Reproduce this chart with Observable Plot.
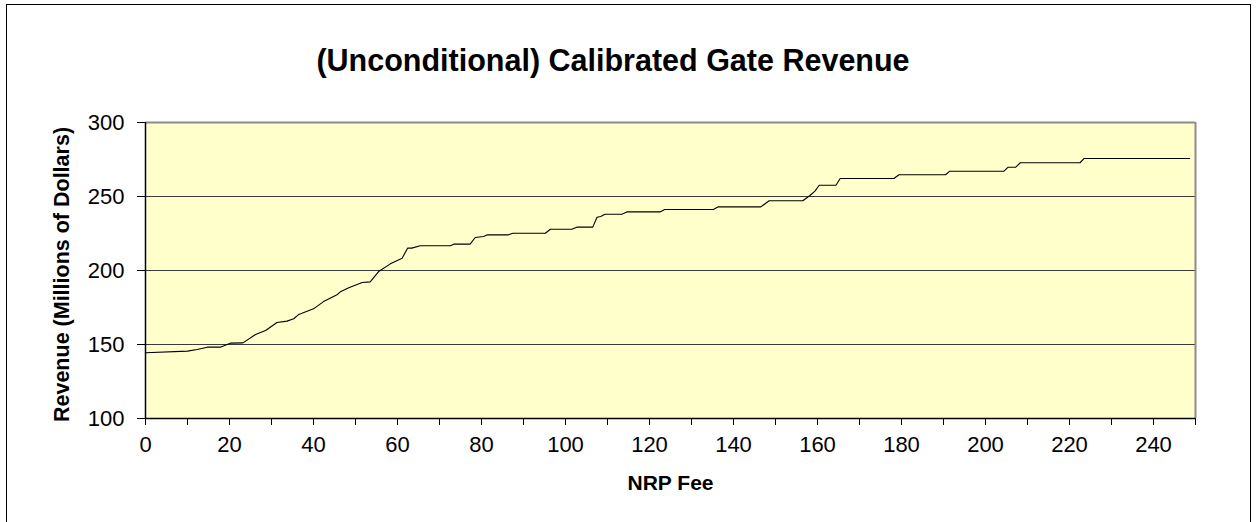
<!DOCTYPE html>
<html>
<head>
<meta charset="utf-8">
<script src="https://cdn.jsdelivr.net/npm/d3@7"></script>
<script src="https://cdn.jsdelivr.net/npm/@observablehq/plot@0.6"></script>
<style>
  html, body { margin: 0; padding: 0; background: #fff; overflow: hidden; width: 1257px; height: 522px; }
  #frame { position: absolute; left: 6px; top: 4px; width: 1245px; height: 600px; border: 1px solid #000; box-sizing: border-box; }
  #title { position: absolute; left: 0; top: 45px; width: 1226px; text-align: center; font: bold 30.5px "Liberation Sans", Arial, sans-serif; line-height: 30px; color: #000; }
  #chart { position: absolute; left: 0; top: 90px; }
</style>
</head>
<body>
<div id="frame"></div>
<div id="title">(Unconditional) Calibrated Gate Revenue</div>
<div id="chart"></div>
<script>
// Data (NRP fee vs. revenue, millions of dollars)
const fee = [0, 10, 12.3, 14.7, 17.8, 20.2, 23.2, 26.2, 28.6, 31.3, 33.7, 35.3, 36.5, 40, 42.4, 45.6, 46.4, 48.4, 51.6, 53.5, 55.5, 58.3, 61.1, 62.4, 63.4, 65.4, 72.6, 73.4, 77.3, 78.5, 80.5, 81.4, 86.4, 87.5, 95.2, 96.4, 101.5, 102.7, 106.5, 107.5, 108.4, 109.4, 113.4, 114.6, 122.5, 123.6, 135.2, 136.4, 146.5, 148.5, 156.5, 158.2, 159.4, 160.4, 164.4, 165.4, 178.2, 179.4, 190.5, 191.5, 204.4, 205.4, 207.2, 208.3, 222.5, 223.5, 248.6];
const revenue = [144.4, 145.5, 146.6, 148.2, 148.2, 150.9, 151.1, 156.8, 159.5, 164.9, 165.8, 167.4, 170.3, 174.1, 179, 183.6, 185.6, 188.3, 191.9, 192.3, 199.3, 204.5, 208.3, 215.1, 215.1, 216.7, 216.7, 217.8, 217.8, 222.3, 223, 224.1, 224.1, 225.2, 225.2, 227.9, 227.9, 229.3, 229.3, 236, 236.5, 238, 238, 239.6, 239.6, 241.2, 241.2, 243, 243, 247.1, 247.1, 250.7, 253.6, 257.6, 257.6, 262.2, 262.2, 264.7, 264.7, 267.1, 267.1, 269.8, 269.8, 272.8, 272.8, 275.7, 275.7];
const xTicks = [0, 10, 20, 30, 40, 50, 60, 70, 80, 90, 100, 110, 120, 130, 140, 150, 160, 170, 180, 190, 200, 210, 220, 230, 240, 250];
const xTickLabels = [0, 20, 40, 60, 80, 100, 120, 140, 160, 180, 200, 220, 240];
const yTicks = [100, 150, 200, 250, 300];
const gridValues = [150, 200, 250];
const xTitle = "NRP Fee";
const yTitle = "Revenue (Millions of Dollars)";

const data = fee.map((f, i) => ({fee: f, revenue: revenue[i]}));
const font = "'Liberation Sans', Arial, sans-serif";

const chart = Plot.plot({
  width: 1257,
  height: 432,
  marginLeft: 145,
  marginRight: 62,
  marginTop: 32,
  marginBottom: 104,
  style: {fontFamily: font, fontSize: "22px", color: "#000", background: "transparent", overflow: "visible"},
  x: {domain: [0, 250], label: null},
  y: {domain: [100, 300], label: null},
  marks: [
    Plot.frame({fill: "#FFFFCC", stroke: null}),
    Plot.ruleY(gridValues, {stroke: "#3a3a3a", strokeWidth: 1}),
    Plot.ruleY([300], {stroke: "#8c8c8c", strokeWidth: 2}),
    Plot.ruleX([250], {stroke: "#8c8c8c", strokeWidth: 2}),
    Plot.ruleX([0], {stroke: "#000", strokeWidth: 1.5}),
    Plot.ruleY([100], {stroke: "#000", strokeWidth: 1.5}),
    Plot.axisX({ticks: xTicks, tickSize: 7, tickPadding: 11, stroke: "#000",
      tickFormat: d => xTickLabels.includes(d) ? String(d) : "", fontSize: 22}),
    Plot.axisY({ticks: yTicks, tickSize: 8, tickPadding: 13, stroke: "#000",
      tickFormat: d => String(d), fontSize: 22}),
    Plot.line(data, {x: "fee", y: "revenue", stroke: "#000", strokeWidth: 1.1}),
    Plot.text([xTitle], {frameAnchor: "bottom", dy: 65, fontWeight: "bold", fontSize: 21, fill: "#000", lineAnchor: "middle", textAnchor: "middle"}),
    Plot.text([yTitle], {frameAnchor: "left", dx: -83, dy: 4, rotate: -90, fontWeight: "bold", fontSize: 21.5, fill: "#000", lineAnchor: "middle", textAnchor: "middle"})
  ]
});
document.getElementById("chart").appendChild(chart);
</script>
</body>
</html>
